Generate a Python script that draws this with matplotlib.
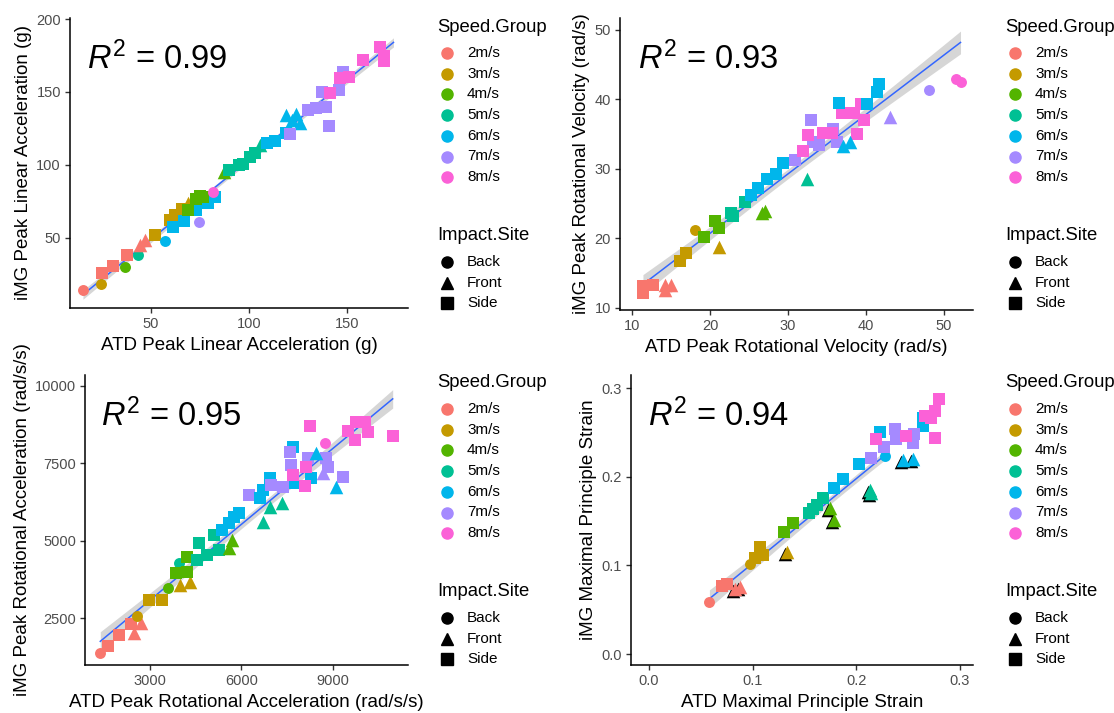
import numpy as np
import matplotlib
matplotlib.use('Agg')
import matplotlib.pyplot as plt
from matplotlib.lines import Line2D
from matplotlib.transforms import ScaledTranslation

plt.rcParams['font.family'] = ['Liberation Sans', 'DejaVu Sans']
plt.rcParams['mathtext.fontset'] = 'custom'
plt.rcParams['mathtext.rm'] = 'Liberation Sans'
plt.rcParams['mathtext.it'] = 'Liberation Sans:italic'

speed_labels = ['2m/s', '3m/s', '4m/s', '5m/s', '6m/s', '7m/s', '8m/s']
speed_colors = ['#F8766D', '#C49A00', '#53B400', '#00C094', '#00B6EB', '#A58AFF', '#FB61D7']
site_labels = ['Back', 'Front', 'Side']
site_markers = {'B': 'o', 'F': '^', 'S': 's'}
site_sizes = {'B': 62, 'F': 95, 'S': 82}

# --- peak linear acceleration (g) ---
lin_atd = [15.3, 24.3, 24.8, 30.5, 37.6, 36.7, 43.5, 44.3, 47, 52, 59.7, 62, 66, 64, 69,
           57, 61, 67, 73, 79, 82.7, 74.7, 69, 73, 76.5, 75, 81.5, 87, 90, 95, 97, 100.5,
           103, 105.6, 109, 113, 119, 119, 124, 126, 122, 121, 130, 134, 137, 139, 145.6,
           148, 140.5, 141, 146.4, 151, 158, 166.8, 169, 169, 173.6]
lin_img = [14.4, 18.5, 26.2, 31, 38.4, 30.4, 38.4, 45.2, 48.6, 52, 62.3, 66, 70, 69, 74,
           48, 57.8, 61.6, 69, 74, 78, 61, 69, 77, 78, 79, 81.7, 95.4, 96.5, 100, 101, 105.7,
           108, 113.7, 115, 116.5, 121.6, 134, 135, 128.5, 131, 121, 137.7, 139, 150, 140, 151.4,
           164, 126.6, 149, 159.4, 160, 172, 181, 175, 171, 191]
lin_speed = [2, 3, 2, 2, 2, 4, 5, 2, 2, 3, 3, 3, 3, 3, 3,
             6, 6, 6, 6, 6, 6, 7, 4, 4, 4, 4, 8, 4, 5, 5, 5, 5,
             5, 5, 6, 6, 6, 6, 6, 6, 6, 7, 7, 7, 7, 7, 7,
             7, 7, 8, 8, 8, 8, 8, 8, 8, 8]
lin_site = list('BBSSSBBFFSSSSFF' 'BSSSSSBSSSSBFSSSS' 'SFSSSFFFFSSSSSS' 'SSSSSSSSS')

# --- peak rotational velocity (rad/s) ---
vel_atd = [11.4, 11.4, 12.7, 14.2, 15.0, 14.2, 16.1, 16.9, 18.1, 21.2, 19.2, 20.6, 21.2,
           27.0, 26.6, 22.7, 22.9, 24.5, 32.4, 25.3, 26.2, 27.3, 28.5, 29.4, 30.9, 33.0,
           33.2, 33.9, 35.8, 36.3, 31.9, 32.5, 34.5, 35.6, 36.9, 38.4, 39.3, 38.8, 39.7,
           36.5, 40.1, 41.6, 41.4, 37.1, 38.0, 43.0, 48.1, 51.5, 52.1]
vel_img = [12.1, 13.1, 13.3, 13.3, 13.3, 12.6, 16.7, 17.9, 21.2, 18.8, 20.2, 22.5, 21.5,
           23.9, 23.6, 23.7, 23.2, 25.3, 28.5, 26.3, 27.3, 28.5, 29.2, 30.9, 31.3, 37.1,
           33.8, 33.5, 35.7, 33.8, 32.5, 34.9, 35.2, 35.2, 38.1, 38.1, 39.3, 35.0, 37.1,
           39.5, 39.3, 42.2, 41.0, 33.3, 33.8, 37.4, 41.3, 42.9, 42.5]
vel_speed = [2, 2, 2, 2, 2, 2, 3, 3, 3, 3, 4, 4, 4,
             4, 4, 5, 5, 5, 5, 6, 6, 6, 6, 6, 7, 7,
             7, 7, 7, 7, 8, 8, 8, 8, 8, 8, 8, 8, 8,
             6, 6, 6, 6, 6, 6, 7, 7, 8, 8]
vel_site = list('SSSFFFSSBFSSS' 'FFSSSFSSSSSSS' 'SSSSSSSSSSSSS' 'SSSSFFFBBB')

# --- peak rotational acceleration (rad/s/s) ---
racc_atd = [1370, 1609, 1989, 2370, 2478, 2696, 2565, 2967, 3380, 3598, 4000, 4326, 3946,
            3837, 4217, 4217, 4598, 4543, 4870, 5087, 5250, 5576, 5685, 5359, 5576, 5739,
            5902, 6717, 6935, 7315, 6250, 6609, 6717, 6935, 7696, 7696, 8294, 6957, 7370,
            7587, 7609, 8185, 8783, 8837, 9326, 8457, 9087, 8674, 7696, 8076, 8130, 8261,
            9489, 9707, 9761, 10141, 10033, 10957, 8750]
racc_img = [1371, 1608, 1962, 2317, 2016, 2339, 2575, 3091, 3091, 3467, 3575, 3682, 4274,
            3973, 4489, 4005, 4919, 4381, 4543, 5187, 4704, 4757, 5026, 5349, 5564, 5779,
            5886, 5618, 6101, 6209, 6478, 6370, 6639, 7015, 8036, 6854, 7015, 6800, 6746,
            7874, 7445, 7660, 7660, 7370, 7069, 7821, 6746, 7176, 7122, 6768, 7391, 8702,
            8542, 8251, 8843, 8520, 8843, 8380, 8144]
racc_speed = [2, 2, 2, 2, 2, 2, 3, 3, 3, 4, 3, 3, 5,
              4, 4, 4, 5, 5, 5, 5, 5, 4, 4, 6, 6, 6,
              6, 5, 5, 5, 7, 6, 6, 6, 6, 6, 6, 7, 7,
              7, 7, 7, 7, 7, 7, 6, 6, 7, 8, 8, 8, 8,
              8, 8, 8, 8, 8, 8, 8]
racc_site = list('BSSSFFBSSBFFB' 'SSSSSSSSFFSSS' 'SFFFSSSSSSSSS' 'SSSSSSFFFSSSS' 'SSSSSSB')

# --- maximal principal strain ---
mps_atd = [0.0583, 0.0704, 0.0752, 0.0833, 0.088, 0.0977, 0.1025, 0.107, 0.110, 0.133,
           0.130, 0.139, 0.154, 0.158, 0.168, 0.162, 0.1745, 0.178, 0.213, 0.2145,
           0.178, 0.187, 0.203, 0.2225, 0.264, 0.264, 0.228, 0.245, 0.2546, 0.2145,
           0.227, 0.237, 0.2386, 0.256, 0.2546, 0.219, 0.248, 0.2658, 0.2754, 0.280,
           0.2754, 0.272]
mps_img = [0.0586, 0.0764, 0.0795, 0.0738, 0.0757, 0.102, 0.1078, 0.121, 0.112, 0.115,
           0.138, 0.148, 0.159, 0.163, 0.176, 0.168, 0.1646, 0.151, 0.185, 0.182,
           0.187, 0.197, 0.214, 0.250, 0.257, 0.2667, 0.223, 0.219, 0.2195, 0.221,
           0.234, 0.2535, 0.242, 0.248, 0.2384, 0.242, 0.246, 0.2686, 0.2743, 0.2876,
           0.244, 0.2667]
mps_speed = [2, 2, 2, 2, 2, 3, 3, 3, 3, 3,
             4, 4, 5, 5, 5, 5, 4, 4, 5, 5,
             6, 6, 6, 6, 6, 6, 6, 6, 6, 7,
             7, 7, 7, 7, 7, 8, 8, 8, 8, 8,
             8, 8]
mps_site = list('BSSFFBSSSF' 'SSSSSSFFFF' 'SSSSSSBFFS' 'SSSSSSSSSS' 'SS')
mps_fit_max = 0.228

panels = [
    dict(x=lin_atd, y=lin_img, speed=lin_speed, site=lin_site, r2='0.99',
         xlabel='ATD Peak Linear Acceleration (g)', ylabel='iMG Peak Linear Acceleration (g)',
         xticks=[50, 100, 150], yticks=[50, 100, 150, 200], xlim=(8.7, 181), ylim=(2, 200.7),
         fit_max=None, shadow=False, rect=[70, 18, 408, 308]),
    dict(x=vel_atd, y=vel_img, speed=vel_speed, site=vel_site, r2='0.93',
         xlabel='ATD Peak Rotational Velocity (rad/s)', ylabel='iMG Peak Rotational Velocity (rad/s)',
         xticks=[10, 20, 30, 40, 50], yticks=[10, 20, 30, 40, 50], xlim=(8.46, 53.7), ylim=(9.7, 51.7),
         fit_max=None, shadow=False, rect=[620, 18, 973, 310]),
    dict(x=racc_atd, y=racc_img, speed=racc_speed, site=racc_site, r2='0.95',
         xlabel='ATD Peak Rotational Acceleration (rad/s/s)', ylabel='iMG Peak Rotational Acceleration (rad/s/s)',
         xticks=[3000, 6000, 9000], yticks=[2500, 5000, 7500, 10000], xlim=(869, 11459), ylim=(984, 10355),
         fit_max=None, shadow=False, rect=[85, 375, 408, 665]),
    dict(x=mps_atd, y=mps_img, speed=mps_speed, site=mps_site, r2='0.94',
         xlabel='ATD Maximal Principle Strain', ylabel='iMG Maximal Principle Strain',
         xticks=[0.0, 0.1, 0.2, 0.3], yticks=[0.0, 0.1, 0.2, 0.3], xlim=(-0.0173, 0.3125), ylim=(-0.0124, 0.3147),
         fit_max=mps_fit_max, shadow=True, rect=[631, 375, 973, 665]),
]

W, H = 1114, 713
fig = plt.figure(figsize=(W / 100, H / 100), dpi=100)


def draw_legend(fig, px, py):
    """Legend drawn in figure pixel coords, top-left of title at (px, py)."""
    def f(x, y):
        return x / W, 1 - y / H
    fig.text(*f(px, py + 10), 'Speed.Group', fontsize=13.3, va='center', ha='left')
    for i, (lab, col) in enumerate(zip(speed_labels, speed_colors)):
        yy = py + 36 + i * 20.7
        fig.add_artist(Line2D([f(px + 10, yy)[0]], [f(px + 10, yy)[1]], marker='o', color=col,
                              markersize=8, linestyle='none', transform=fig.transFigure))
        fig.text(*f(px + 30, yy), lab, fontsize=11, va='center', ha='left')
    fig.text(*f(px, py + 218), 'Impact.Site', fontsize=13.3, va='center', ha='left')
    for i, (lab, m) in enumerate(zip(site_labels, ['o', '^', 's'])):
        yy = py + 245 + i * 20.7
        fig.add_artist(Line2D([f(px + 10, yy)[0]], [f(px + 10, yy)[1]], marker=m, color='black',
                              markersize=8, linestyle='none', transform=fig.transFigure))
        fig.text(*f(px + 30, yy), lab, fontsize=11, va='center', ha='left')


for p in panels:
    l, t, r, b = p['rect']
    ax = fig.add_axes([l / W, 1 - b / H, (r - l) / W, (b - t) / H])
    x = np.array(p['x'], dtype=float)
    y = np.array(p['y'], dtype=float)

    # linear fit with 95% confidence band (geom_smooth(method = "lm"))
    n = len(x)
    slope, icpt = np.polyfit(x, y, 1)
    resid = y - (slope * x + icpt)
    s = np.sqrt(np.sum(resid ** 2) / (n - 2))
    xs = np.linspace(x.min(), p['fit_max'] if p['fit_max'] else x.max(), 80)
    se = s * np.sqrt(1 / n + (xs - x.mean()) ** 2 / np.sum((x - x.mean()) ** 2))
    fit = slope * xs + icpt
    ax.fill_between(xs, fit - 2.0 * se, fit + 2.0 * se, color='#999999', alpha=0.4, lw=0, zorder=1)
    ax.plot(xs, fit, color='#3366FF', lw=1.1, zorder=2)

    # dark duplicates peeking out behind the front-impact triangles
    if p['shadow']:
        shift = ax.transData + ScaledTranslation(-2 / 100, -2 / 100, fig.dpi_scale_trans)
        for xi, yi, st in zip(p['x'], p['y'], p['site']):
            if st == 'F':
                ax.scatter(xi, yi, s=site_sizes[st], marker='^', color='black',
                           linewidths=0, zorder=2.5, transform=shift)

    for xi, yi, sp, st in zip(p['x'], p['y'], p['speed'], p['site']):
        ax.scatter(xi, yi, s=site_sizes[st], marker=site_markers[st],
                   color=speed_colors[sp - 2], linewidths=0, zorder=3)

    ax.set_xlim(*p['xlim'])
    ax.set_ylim(*p['ylim'])
    ax.set_xticks(p['xticks'])
    ax.set_yticks(p['yticks'])
    if p['xticks'][0] == 0.0 and p['xticks'][-1] == 0.3:
        ax.set_xticklabels(['0.0', '0.1', '0.2', '0.3'])
        ax.set_yticklabels(['0.0', '0.1', '0.2', '0.3'])
    for side in ['top', 'right']:
        ax.spines[side].set_visible(False)
    for side in ['left', 'bottom']:
        ax.spines[side].set_linewidth(1.1)
        ax.spines[side].set_color('black')
    ax.tick_params(length=3.5, width=1, color='#333333', labelcolor='#4D4D4D', labelsize=10.5, pad=3)
    ax.set_xlabel(p['xlabel'], fontsize=13.5, labelpad=4)
    ax.set_ylabel(p['ylabel'], fontsize=13.5, labelpad=3)
    ax.text(0.05, 0.86, r'$R^2$ = ' + p['r2'], transform=ax.transAxes, fontsize=23.5,
            va='center', ha='left')

draw_legend(fig, 437, 17)
draw_legend(fig, 1005, 17)
draw_legend(fig, 437, 373)
draw_legend(fig, 1005, 373)

fig.savefig('out.png', dpi=100)
